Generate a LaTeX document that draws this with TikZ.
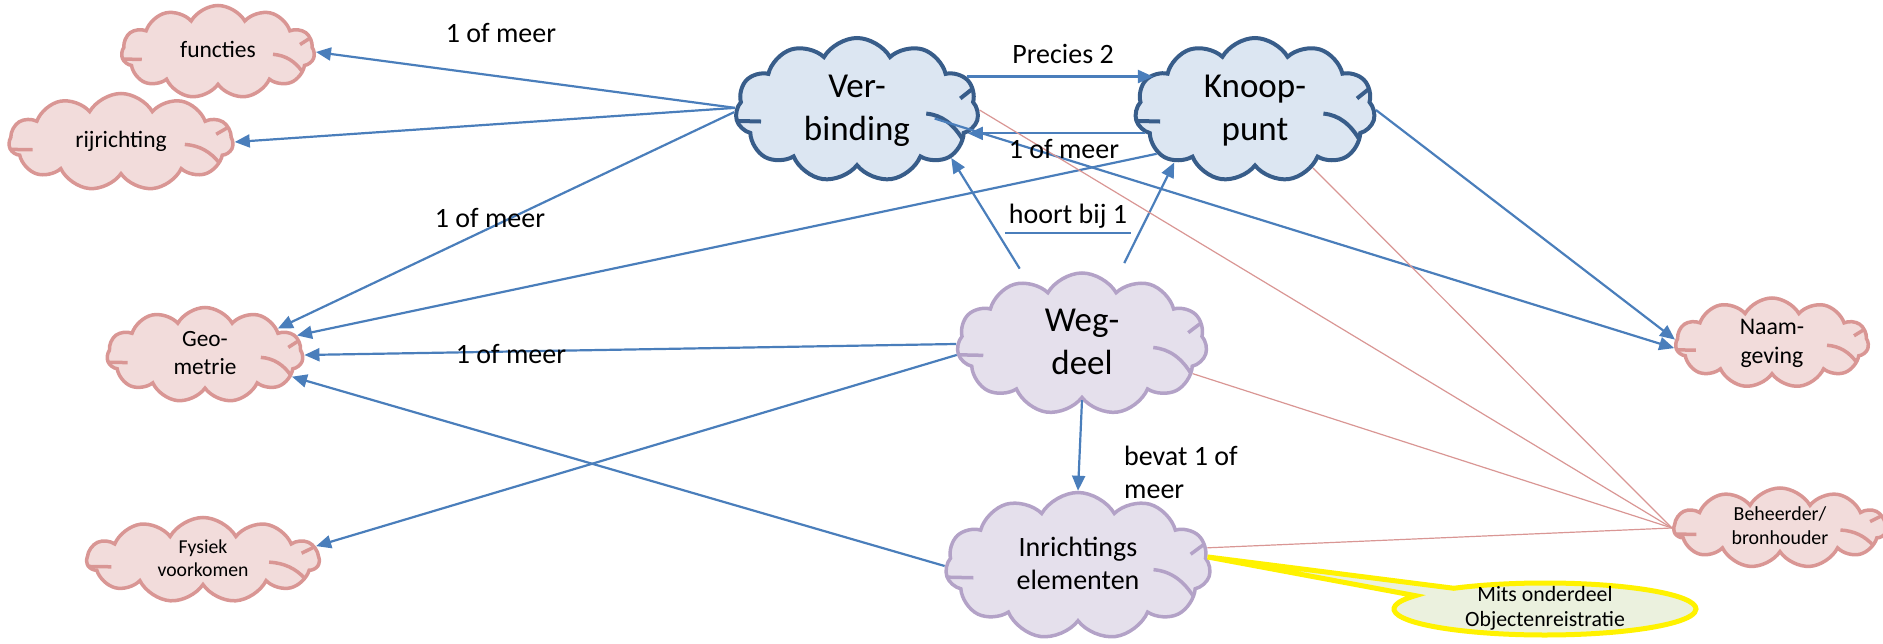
\documentclass[tikz,border=0pt]{standalone}
\usepackage{fontspec}
\setmainfont{Carlito}
\usetikzlibrary{shapes.symbols,shapes.callouts,arrows.meta}
\definecolor{blueline}{HTML}{385D8A}
\definecolor{bluefill}{HTML}{DCE6F2}
\definecolor{pinkline}{HTML}{D99694}
\definecolor{pinkfill}{HTML}{F2DCDB}
\definecolor{lilacline}{HTML}{B3A2C7}
\definecolor{lilacfill}{HTML}{E5E0EC}
\definecolor{arrowblue}{HTML}{4A7EBB}
\definecolor{notefill}{HTML}{EBF1DE}
% binnenboogjes van een wolk, in eenheden van breedte en hoogte
\newcommand{\boogjes}{(-0.52,0.075) -- (-0.395,0.08)
  (0.515,-0.2) -- (0.425,-0.08)
  (0.285,0.025) .. controls (0.35,0.035) and (0.4,0.1) .. (0.44,0.22)}
\begin{document}
\begin{tikzpicture}[x=1pt, y=-1pt,
  wolk/.style={cloud, cloud puffs=11, cloud puff arc=120, cloud ignores aspect, inner sep=0pt},
  hoofd/.style 2 args={wolk, draw=blueline, fill=bluefill, line width=4pt, minimum width=#1, minimum height=#2,
    path picture={\draw [blueline, line width=4pt, shift={(path picture bounding box.center)}, x=#1pt, y=-#2pt] \boogjes;}},
  attr/.style 2 args={wolk, draw=pinkline, fill=pinkfill, line width=3.5pt, minimum width=#1, minimum height=#2,
    path picture={\draw [pinkline, line width=3.5pt, shift={(path picture bounding box.center)}, x=#1pt, y=-#2pt] \boogjes;}},
  deel/.style 2 args={wolk, draw=lilacline, fill=lilacfill, line width=3.5pt, minimum width=#1, minimum height=#2,
    path picture={\draw [lilacline, line width=3.5pt, shift={(path picture bounding box.center)}, x=#1pt, y=-#2pt] \boogjes;}},
  relatie/.style={draw=arrowblue, line width=2.2pt, -{Triangle[length=15pt,width=13pt]}},
  beheer/.style={draw=pinkline, line width=1.2pt},
  bijschrift/.style={font=\fontsize{28}{33}\selectfont, inner sep=0pt},
  ]
 \useasboundingbox (0,0) rectangle (1883,644);

 % hoofdobjecten
 \node [hoofd={243}{144},
    label={[font=\fontsize{35}{43}\selectfont]center:{\begin{tabular}{c}Ver-\\binding\end{tabular}}}] (ver) at (857,110) {};
 \node [hoofd={240}{144},
    label={[font=\fontsize{35}{43}\selectfont]center:{\begin{tabular}{c}Knoop-\\punt\end{tabular}}}] (knp) at (1255,110) {};
 \node [deel={250}{142},
    label={[font=\fontsize{35}{43}\selectfont]center:{\begin{tabular}{c}Weg-\\deel\end{tabular}}}] (weg) at (1082,344) {};
 \node [deel={265}{147},
    label={[font=\fontsize{28}{33}\selectfont]center:{\begin{tabular}{c}Inrichtings\\elementen\end{tabular}}}] (inr) at (1078,566) {};

 % attributen
 \node [attr={193}{93},
    label={[font=\fontsize{23.5}{28}\selectfont]center:{\begin{tabular}{c}functies\end{tabular}}}] (fun) at (218,52) {};
 \node [attr={224}{97},
    label={[font=\fontsize{23.5}{28}\selectfont]center:{\begin{tabular}{c}rijrichting\end{tabular}}}] (rij) at (121,142) {};
 \node [attr={196}{95},
    label={[font=\fontsize{23.3}{28}\selectfont]center:{\begin{tabular}{c}Geo-\\metrie\end{tabular}}}] (geo) at (205,355) {};
 \node [attr={232}{85},
    label={[font=\fontsize{19.7}{23}\selectfont]center:{\begin{tabular}{c}Fysiek\\voorkomen\end{tabular}}}] (fys) at (203,560) {};
 \node [attr={193}{90},
    label={[font=\fontsize{23.8}{29}\selectfont]center:{\begin{tabular}{c}Naam-\\geving\end{tabular}}}] (naam) at (1772,343) {};
 \node [attr={212}{80},
    label={[font=\fontsize{19.9}{24}\selectfont]center:{\begin{tabular}{c}Beheerder/\\bronhouder\end{tabular}}}] (beh) at (1780,528) {};

 % opmerking
 \node [ellipse callout, draw=yellow, fill=notefill, line width=5pt, inner sep=0pt,
    minimum width=302, minimum height=52, callout pointer arc=22,
    callout absolute pointer={(inr.4)},
    label={[font=\fontsize{21.8}{25}\selectfont]center:{\begin{tabular}{c}Mits onderdeel\\Objectenreistratie\end{tabular}}}] (mits) at (1545,609) {};

 % relaties
 \draw [relatie] (ver.179) -- (fun.east);
 \draw [relatie] (ver.179) -- (rij.east);
 \draw [relatie] (ver.181) -- (geo.20);
 \draw [relatie] (knp.204) -- (geo.12);
 \draw [relatie] (weg.west) -- (geo.east);
 \draw [relatie] (weg.185) -- (fys.7);
 \draw [relatie] (inr.west) -- (geo.-14);
 \draw [relatie, shorten <=15pt] (weg.131) -- (ver.-27);
 \draw [relatie, shorten <=25pt] (weg.62) -- (knp.213);
 \draw [relatie] (ver.17) -- (ver.17 -| knp.160);
 \draw [relatie] (knp.192) -- (knp.192 -| ver.-12);
 \draw [relatie, shorten <=-40pt] (ver.-10) -- (naam.183);
 \draw [relatie] (knp.east) -- (naam.178);
 \draw [relatie] (weg.south) -- (inr.north);

 \draw [beheer] (ver.east) -- (beh.west);
 \draw [beheer] (knp.-45) -- (beh.west);
 \draw [beheer] (weg.-15) -- (beh.west);
 \draw [beheer] (inr.8) -- (beh.west);

 % bijschriften
 \node [bijschrift, anchor=base] (l1) at (501,43) {1 of meer};
 \node [bijschrift, anchor=base] (l2) at (490,228) {1 of meer};
 \node [bijschrift, anchor=base] (l3) at (511,363) {1 of meer};
 \node [bijschrift, anchor=base] (prec) at (1063,64) {Precies 2};
 \node [bijschrift, anchor=base] (l4) at (1064,159) {1 of meer};
 \node [bijschrift, anchor=base, inner sep=4pt] (hoort) at (1068,224) {hoort bij 1};
 \draw [arrowblue, line width=2pt] (hoort.south west) -- (hoort.south east);
 \node [bijschrift, anchor=west] (bevat) at (1124,475) {\begin{tabular}{@{}l@{}}bevat 1 of\\meer\end{tabular}};
  \end{tikzpicture}
\end{document}
